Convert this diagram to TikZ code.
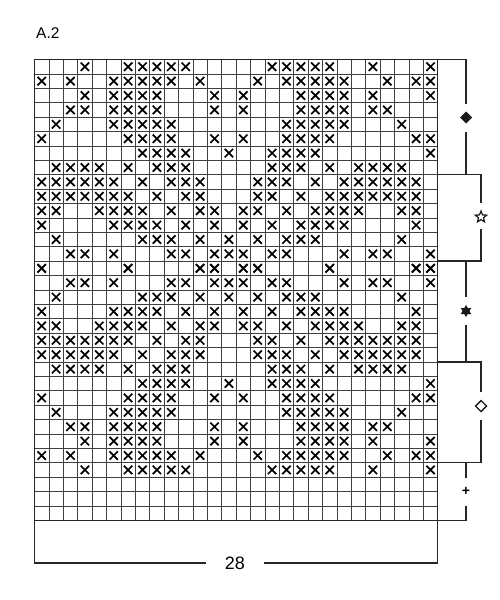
\documentclass[tikz,border=0pt]{standalone}
\usepackage{fontspec}
\setmainfont{Liberation Sans}
\usetikzlibrary{shapes}
\tikzstyle{gridline} = [draw=black!75, line width=0.8pt]
\tikzstyle{gridframe} = [draw=black!85, line width=1.2pt]
\tikzstyle{stitch} = [draw=black, line width=1.7pt]
\tikzstyle{bracket} = [draw=black!85, line width=1.4pt]
\tikzstyle{filldiamond} = [diamond, fill=black!90, minimum size=12pt,
    inner sep=0pt, outer sep=0pt]
\tikzstyle{opendiamond} = [diamond, draw=black!90, line width=1.4pt,
    minimum size=11pt, inner sep=0pt, outer sep=0pt]
\tikzstyle{openstar} = [star, star points=5, star point ratio=2.3, draw=black!90,
    line width=1.2pt, minimum size=12pt, inner sep=0pt, outer sep=0pt]
\tikzstyle{fillstar} = [star, star points=6, star point ratio=1.73, fill=black!90,
    minimum size=12pt, inner sep=0pt, outer sep=0pt]
\tikzstyle{plussign} = [font=\fontsize{14}{14}\selectfont\bfseries, inner sep=0pt,
    outer sep=0pt, minimum height=10pt]
\begin{document}
\begin{tikzpicture}[x=1pt, y=-1pt]
    \useasboundingbox (0,0) rectangle (500,600);

    \node [anchor=base west, font=\fontsize{15.5}{18}\selectfont, inner sep=0pt] (title) at (36,38.3) {A.2};

    % Chart, 28 stitches x 32 rows
    \begin{scope}[shift={(34.5,59.5)}, x=14.4pt, y=-14.4pt]
        \foreach \i in {0,...,28} \draw [gridline] (\i,0) -- (\i,32);
        \foreach \j in {0,...,32} \draw [gridline] (0,\j) -- (28,\j);
        \draw [gridframe] (0,0) rectangle (28,32);

        % rows 1-15, rows 16-29 mirror them
        \foreach \r/\cs in {
            1/{3,6,7,8,9,10,16,17,18,19,20,23,27},
            2/{0,2,5,6,7,8,9,11,15,17,18,19,20,21,24,26,27},
            3/{3,5,6,7,8,12,14,18,19,20,21,23,27},
            4/{2,3,5,6,7,8,12,14,18,19,20,21,23,24},
            5/{1,5,6,7,8,9,17,18,19,20,21,25},
            6/{0,6,7,8,9,12,14,17,18,19,20,26,27},
            7/{7,8,9,10,13,16,17,18,19,27},
            8/{1,2,3,4,6,8,9,10,16,17,18,20,22,23,24,25},
            9/{0,1,2,3,4,5,7,9,10,11,15,16,17,19,21,22,23,24,25,26},
            10/{0,1,2,3,4,5,6,8,10,11,15,16,18,20,21,22,23,24,25,26},
            11/{0,1,4,5,6,7,9,11,12,14,15,17,19,20,21,22,25,26},
            12/{0,5,6,7,8,10,12,14,16,18,19,20,21,26},
            13/{1,7,8,9,11,13,15,17,18,19,25},
            14/{2,3,5,9,10,12,13,14,16,17,21,23,24,27},
            15/{0,6,11,12,14,15,20,26,27}} {
            \foreach \c in \cs {
                \draw [stitch] (\c+0.5,\r-0.5) +(-0.29,-0.29) -- +(0.29,0.29)
                    +(-0.29,0.29) -- +(0.29,-0.29);
                \draw [stitch] (\c+0.5,29.5-\r) +(-0.29,-0.29) -- +(0.29,0.29)
                    +(-0.29,0.29) -- +(0.29,-0.29);
            }
        }

        \coordinate (r0) at (28,0);
        \coordinate (r8) at (28,8);
        \coordinate (r14) at (28,14);
        \coordinate (r21) at (28,21);
        \coordinate (r28) at (28,28);
        \coordinate (r32) at (28,32);
        \coordinate (l32) at (0,32);
    \end{scope}

    % Place nodes
    \node [filldiamond] (diamondrep) at (466,117.5) {};
    \node [openstar] (starrep) at (481,217) {};
    \node [fillstar] (sixstarrep) at (466,311) {};
    \node [opendiamond] (opendiamondrep) at (481,406) {};
    \node [plussign] (plusrep) at (466,491.5) {+};
    \node [font=\fontsize{18}{20}\selectfont, inner xsep=19pt, inner ysep=0pt] (width) at (235,563) {28};

    % Draw edges
    \draw [bracket] (r0) -| ([yshift=8pt]diamondrep.north);
    \draw [bracket] ([yshift=-8pt]diamondrep.south) -- (diamondrep |- r8);
    \draw [bracket] (r8) -| ([yshift=8pt]starrep.north);
    \draw [bracket] ([yshift=-9pt]starrep.south) |- (r14);
    \draw [bracket] (sixstarrep |- r14) -- ([yshift=8pt]sixstarrep.north);
    \draw [bracket] ([yshift=-8pt]sixstarrep.south) -- (sixstarrep |- r21);
    \draw [bracket] (r21) -| ([yshift=8.5pt]opendiamondrep.north);
    \draw [bracket] ([yshift=-8.5pt]opendiamondrep.south) |- (r28);
    \draw [bracket] (plusrep |- r28) -- ([yshift=9pt]plusrep.north);
    \draw [bracket] ([yshift=-9pt]plusrep.south) |- (r32);
    \draw [bracket] (l32) |- (width);
    \draw [bracket] (r32) |- (width);
\end{tikzpicture}
\end{document}
